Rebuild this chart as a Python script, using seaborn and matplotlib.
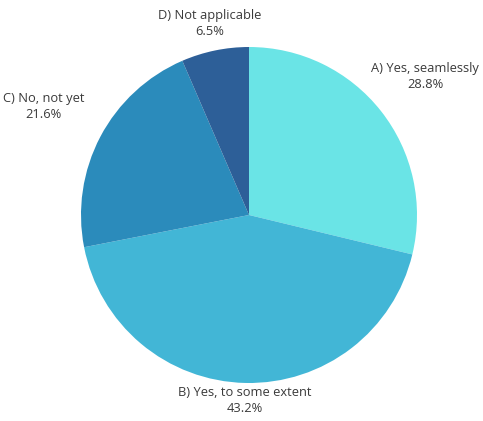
import numpy as np
import matplotlib
matplotlib.use("Agg")
import matplotlib.pyplot as plt
import seaborn as sns

# Data
categories = ["A) Yes, seamlessly", "B) Yes, to some extent", "C) No, not yet", "D) Not applicable"]
shares = [28.8, 43.2, 21.6, 6.5]
colors = ["#6ae4e6", "#42b6d6", "#2b8bbb", "#2d5f98"]

sns.set_theme(style="white")
plt.rcParams["font.family"] = ["Open Sans", "DejaVu Sans"]

fig = plt.figure(figsize=(4.83, 4.21), dpi=100)
ax = fig.add_axes([0, 0, 1, 1])

center = (249, 206)
radius = 168
wedges, _ = ax.pie(shares, colors=colors, startangle=90, counterclock=False,
                   center=center, radius=radius, frame=True,
                   wedgeprops=dict(linewidth=0))
ax.set_xlim(0, 483)
ax.set_ylim(0, 421)
ax.set_aspect("equal")
ax.axis("off")

# label distance (pixels from centre) for each slice
label_dist = [224, 186, 232, 196]
for w, lab, val, d in zip(wedges, categories, shares, label_dist):
    mid = np.deg2rad((w.theta1 + w.theta2) / 2)
    x = center[0] + d * np.cos(mid)
    y = center[1] + d * np.sin(mid)
    ax.text(x, y, f"{lab}\n{val:.1f}%", ha="center", va="center",
            fontsize=9.3, color="#3a3a3a", linespacing=1.3)

fig.savefig("out.png", dpi=100)
